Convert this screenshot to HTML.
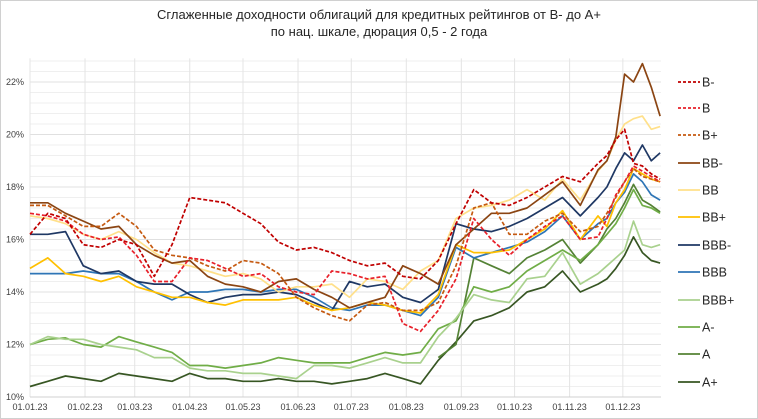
<!DOCTYPE html>
<html><head><meta charset="utf-8"><style>
html,body{margin:0;padding:0;background:#fff;}
svg{display:block;font-family:"Liberation Sans",Arial,sans-serif;}
</style></head><body>
<svg id="chart" width="758" height="419" viewBox="0 0 758 419">
<rect x="0.5" y="0.5" width="757" height="418" fill="#fff" stroke="#d0d0d0"/>
<text x="379" y="19" text-anchor="middle" font-size="13" fill="#262626">Сглаженные доходности облигаций для кредитных рейтингов от B- до A+</text>
<text x="379" y="36" text-anchor="middle" font-size="13" fill="#262626">по нац. шкале, дюрация 0,5 - 2 года</text>
<g id="grid"></g><g id="axes"></g><g id="series"></g><g id="legend"></g>
</svg>
<script>
const days=[0,10,20,30,40,50,60,70,80,90,100,110,120,130,140,150,160,170,180,190,200,210,220,230,240,250,260,270,280,290,300,310,320,325,330,335,340,345,350,355];
const seriesNames=["B-","B","B+","BB-","BB","BB+","BBB-","BBB","BBB+","A-","A","A+"];
const sBm=[16.2,17.0,16.8,15.8,15.7,16.0,15.8,14.6,15.8,17.6,17.5,17.4,17.0,16.6,15.9,15.6,15.7,15.5,15.2,15.0,15.1,14.6,14.5,15.2,16.6,17.9,17.4,17.3,17.6,18.0,18.4,18.2,18.9,19.2,19.8,20.2,18.9,18.8,18.5,18.3];
const sB=[17.0,16.9,16.7,16.2,16.0,16.1,15.4,14.4,14.4,15.3,15.2,14.9,14.6,14.7,14.2,14.0,13.9,14.8,14.7,14.5,14.6,12.8,12.5,13.3,14.5,16.8,16.0,15.4,16.0,16.5,16.9,16.0,16.1,16.8,17.7,18.2,18.8,18.6,18.4,18.2];
const sBp=[17.3,17.3,16.9,16.5,16.5,17.0,16.5,15.6,15.4,15.3,15.0,14.8,15.2,15.1,14.7,13.8,13.4,13.1,12.9,13.5,13.6,13.3,13.3,13.6,15.0,17.2,17.4,16.2,16.2,16.7,17.0,16.3,16.5,17.0,17.6,18.2,18.7,18.4,18.3,18.2];
const sBBm=[17.4,17.4,17.0,16.7,16.4,16.5,15.8,15.4,15.1,15.2,14.6,14.3,14.2,14.0,14.4,14.5,14.1,13.8,13.4,13.6,13.8,15.0,14.7,14.3,15.8,16.4,17.0,17.0,17.2,17.7,18.2,17.3,18.65,19.0,19.9,22.3,22.0,22.7,21.8,20.7];
const sBB=[16.9,16.8,16.6,16.2,16.0,16.3,16.0,15.5,15.1,15.0,14.8,14.6,14.7,14.5,14.0,14.2,14.2,14.3,13.8,14.5,14.4,14.1,14.8,15.2,16.8,17.2,17.3,17.5,17.9,17.5,18.3,17.5,18.6,19.0,19.8,20.4,20.6,20.7,20.2,20.3];
const sBBp=[14.9,15.3,14.7,14.6,14.4,14.6,14.2,14.0,13.8,13.8,13.6,13.5,13.7,13.7,13.7,13.8,13.5,13.3,13.4,13.6,13.5,13.3,13.2,13.9,15.8,15.5,15.5,15.6,16.0,16.4,17.1,16.0,16.9,16.5,17.4,17.9,18.7,18.5,18.3,18.2];
const sBBBm=[16.2,16.2,16.3,15.0,14.7,14.8,14.4,14.3,14.3,13.9,13.6,13.8,13.9,13.9,14.0,13.9,13.6,13.3,14.4,14.2,14.3,13.8,13.6,14.1,16.6,16.4,16.3,16.5,16.8,17.2,17.6,16.9,17.6,18.0,18.7,19.3,19.0,19.6,19.0,19.3];
const sBBB=[14.7,14.7,14.7,14.8,14.7,14.7,14.4,14.0,13.7,14.0,14.0,14.1,14.1,14.0,14.1,14.1,13.8,13.4,13.3,13.5,13.5,13.3,13.1,13.8,15.7,15.3,15.5,15.7,15.9,16.3,16.9,16.0,16.6,16.8,17.4,17.8,18.5,18.2,17.7,17.5];
const sBBBp=[12.0,12.3,12.2,12.2,12.0,11.9,11.8,11.5,11.5,11.1,11.0,11.0,10.9,10.9,10.8,10.7,11.2,11.2,11.1,11.3,11.5,11.3,11.3,12.3,13.0,13.9,13.7,13.6,14.5,14.6,15.5,14.3,14.7,15.0,15.3,15.6,16.7,15.8,15.7,15.8];
const sAm=[12.0,12.2,12.25,12.0,11.9,12.3,12.1,11.9,11.7,11.2,11.2,11.1,11.2,11.3,11.5,11.4,11.3,11.3,11.3,11.5,11.7,11.6,11.7,12.6,12.9,14.2,14.0,14.2,14.8,15.2,15.6,15.2,15.8,16.2,16.6,17.2,17.9,17.3,17.2,17.0];
const sA=[null,null,null,null,null,null,null,null,null,null,null,null,null,null,null,null,null,null,null,null,null,null,null,11.5,12.0,15.3,15.0,14.7,15.3,15.6,16.0,15.1,15.8,16.4,16.8,17.4,18.1,17.5,17.3,17.05];
const sAp=[10.4,10.6,10.8,10.7,10.6,10.9,10.8,10.7,10.6,10.9,10.7,10.7,10.6,10.6,10.7,10.6,10.6,10.5,10.6,10.7,10.9,10.7,10.5,11.4,12.1,12.9,13.1,13.4,14.0,14.2,14.8,14.0,14.3,14.5,14.9,15.4,16.1,15.5,15.2,15.1];
const yTicks=[10,12,14,16,18,20,22];
const yTickLabels=["10%","12%","14%","16%","18%","20%","22%"];
const monthDays=[0,31,59,90,120,151,181,212,243,273,304,334];
const monthLabels=["01.01.23","01.02.23","01.03.23","01.04.23","01.05.23","01.06.23","01.07.23","01.08.23","01.09.23","01.10.23","01.11.23","01.12.23"];

const allSeries=[sBm,sB,sBp,sBBm,sBB,sBBp,sBBBm,sBBB,sBBBp,sAm,sA,sAp];
const colors=["#c00000","#e8202a","#c55a11","#8b4513","#ffe08a","#ffc000","#1f3864","#2e75b6","#a9d18e","#70ad47","#548235","#375623"];
const dashed=[1,1,1,0,0,0,0,0,0,0,0,0];
const X0=30,X1=661,Y10=397,PX_PER_PCT=26.25,PX_PER_DAY=1.775;
function xs(d){return X0+d*PX_PER_DAY;}
function ys(v){return Y10-(v-10)*PX_PER_PCT;}
const NS="http://www.w3.org/2000/svg";
function mk(tag,attrs,parent){const e=document.createElementNS(NS,tag);for(const k in attrs)e.setAttribute(k,attrs[k]);parent.appendChild(e);return e;}
const grid=document.getElementById('grid'),axes=document.getElementById('axes'),ser=document.getElementById('series'),leg=document.getElementById('legend');
// minor horizontal grid every 0.4%
for(let v=10.4;v<22.9;v+=0.4){
  const l=mk('line',{x1:X0,x2:X1,y1:ys(v),y2:ys(v),stroke:'#efefef','stroke-width':1},grid);
  
  
}
yTicks.forEach((t,i)=>{
  const l=mk('line',{x1:X0,x2:X1,y1:ys(t),y2:ys(t),stroke:'#e0e0e0','stroke-width':1},grid);
  
  
  const tx=mk('text',{x:24,y:ys(t)+3,'text-anchor':'end','font-size':9,fill:'#404040'},axes);
  tx.textContent=yTickLabels[i];
  
  
});
monthDays.forEach((d,i)=>{
  const l=mk('line',{x1:xs(d),x2:xs(d),y1:ys(22.9),y2:Y10,stroke:'#e4e4e4','stroke-width':1},grid);
  
  
  const tx=mk('text',{x:xs(d),y:410,'text-anchor':'middle','font-size':9,fill:'#404040'},axes);
  tx.textContent=monthLabels[i];
  
  
});
const xa=mk('line',{x1:X0,x2:X1,y1:Y10,y2:Y10,stroke:'#d0d0d0','stroke-width':1},axes);


const order=[11,10,9,8,7,6,5,4,3,2,1,0];
order.forEach(si=>{
  const vals=allSeries[si];let d='';let pen=false;
  vals.forEach((v,i)=>{if(v==null){pen=false;return;}d+=(pen?'L':'M')+xs(days[i]).toFixed(1)+','+ys(v).toFixed(1);pen=true;});
  const p=mk('path',{d:d,fill:'none',stroke:colors[si],'stroke-width':1.7,'stroke-linejoin':'round'},ser);
  if(dashed[si])p.setAttribute('stroke-dasharray','4,2');
  
  
});
const legY=[82,108,135,163,190,217,245,272,300,327,354,382];
seriesNames.forEach((n,i)=>{
  const g=mk('g',{},leg);
  
  
  const l=mk('line',{x1:678,x2:700,y1:legY[i],y2:legY[i],stroke:colors[i],'stroke-width':1.8},g);
  if(dashed[i])l.setAttribute('stroke-dasharray','3,2');
  const t=mk('text',{x:702,y:legY[i]+4.5,'font-size':12.5,fill:'#262626'},g);
  t.textContent=n;
});
</script>
</body></html>
